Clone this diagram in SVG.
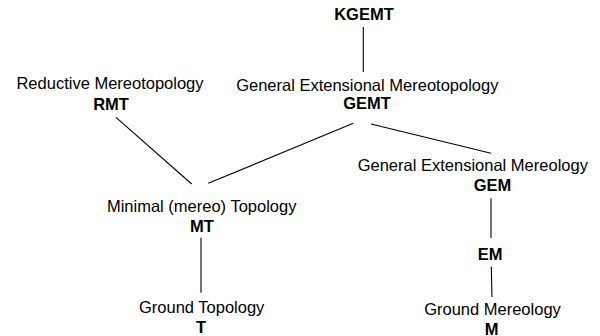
<svg xmlns="http://www.w3.org/2000/svg" width="600" height="336" viewBox="0 0 600 336">
<style>
text{font-family:"Liberation Sans",Arial,Helvetica,sans-serif;font-size:16.5px;fill:#000;text-anchor:middle}
.b{font-weight:bold}
#edges line{stroke:#000;stroke-width:1.1;fill:none}
</style>
<rect width="600" height="336" fill="#fff"/>
<g id="edges">
<line x1="363.3" y1="27" x2="363.3" y2="72"/>
<line x1="116" y1="117.3" x2="191.7" y2="184"/>
<line x1="353.3" y1="123.3" x2="208.3" y2="183.3"/>
<line x1="371" y1="124" x2="491" y2="153.3"/>
<line x1="491" y1="198.3" x2="491" y2="238"/>
<line x1="491.3" y1="266.7" x2="492" y2="297"/>
<line x1="201" y1="237.7" x2="201" y2="292.7"/>
</g>
<g id="KGEMT"><text class="b" x="364" y="20">KGEMT</text></g>
<g id="GEMT"><text x="367.3" y="91">General Extensional Mereotopology</text><text class="b" x="367" y="109">GEMT</text></g>
<g id="RMT"><text x="110" y="88.5">Reductive Mereotopology</text><text class="b" x="111" y="109.5">RMT</text></g>
<g id="MT"><text x="201.7" y="212">Minimal (mereo) Topology</text><text class="b" x="202" y="231.5">MT</text></g>
<g id="T"><text x="201.7" y="313">Ground Topology</text><text class="b" x="201" y="332.5">T</text></g>
<g id="GEM"><text x="472.8" y="171">General Extensional Mereology</text><text class="b" x="492.5" y="191">GEM</text></g>
<g id="EM"><text class="b" x="490" y="260">EM</text></g>
<g id="M"><text x="492.5" y="315">Ground Mereology</text><text class="b" x="491.7" y="334.5">M</text></g>
</svg>
